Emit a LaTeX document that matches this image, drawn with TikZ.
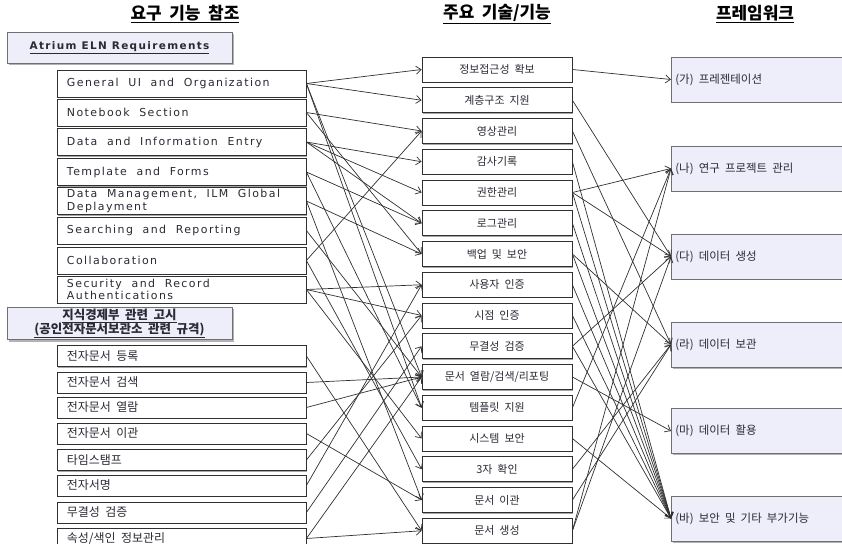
\documentclass[tikz,border=0pt]{standalone}
\usepackage{fontspec}
\setmainfont{Noto Sans CJK KR}
\newfontfamily\latinf[LetterSpace=13]{DejaVu Sans}
\newfontfamily\latinb[LetterSpace=13]{DejaVu Sans Bold}
\usetikzlibrary{arrows.meta,shadows}
\newcommand\gp{\hspace{0.45em}}
\newcommand\wsp{\ \hspace{6bp}}
\definecolor{lav}{HTML}{EEEEFA}
\definecolor{bordg}{HTML}{707070}
\definecolor{txt}{HTML}{2A2A35}
\definecolor{lnc}{HTML}{303030}
\tikzset{
  lbox/.style={draw=lnc, line width=0.8bp, fill=white, text=txt, minimum height=27bp,
    text width=229bp, inner xsep=10bp, inner ysep=0bp, align=left,
    font=\latinf\fontsize{11}{12.5}\selectfont,
    drop shadow={shadow xshift=1.2bp, shadow yshift=-1.2bp, fill=black!35, opacity=1}},
  kbox/.style={lbox, minimum height=21bp, font=\fontsize{12}{13}\selectfont},
  mbox/.style={draw=lnc, line width=0.8bp, fill=white, text=txt, minimum width=150bp,
    minimum height=25bp, inner sep=0bp, font=\fontsize{11}{12}\selectfont,
    drop shadow={shadow xshift=1.2bp, shadow yshift=-1.2bp, fill=black!35, opacity=1}},
  rbox/.style={draw=bordg, line width=0.7bp, fill=lav, text=txt, minimum height=45bp,
    text width=180bp, inner xsep=4bp, inner ysep=0bp, align=left, anchor=west,
    font=\fontsize{11.5}{12}\selectfont,
    drop shadow={shadow xshift=1.5bp, shadow yshift=-1.5bp, fill=black!30, opacity=1}},
  hbox/.style={draw=bordg, line width=0.7bp, fill=lav, text=txt, minimum width=225bp,
    inner sep=0bp, align=center,
    drop shadow={shadow xshift=2bp, shadow yshift=-2bp, fill=black!30, opacity=1}},
  title/.style={font=\bfseries\fontsize{17}{18}\selectfont, text=black},
  conn/.style={draw=lnc, line width=0.7bp, -{Straight Barb[length=5bp,width=8bp]}}
}
\begin{document}
\begin{tikzpicture}[x=1bp,y=-1bp]
\useasboundingbox (0,0) rectangle (842,544);
% titles
\node[title] (T1) at (185,14) {\underline{요구\gp 기능\gp 참조}};
\node[title] (T2) at (497,14) {\underline{주요\gp 기술/기능}};
\node[title] (T3) at (755,14) {\underline{프레임워크}};
% headers
\node[hbox, minimum height=31bp, font=\latinb\fontsize{10.5}{11}\selectfont] (H1) at (119.5,47.5) {\underline{Atrium ELN Requirements}};
\node[hbox, minimum height=32bp, font=\bfseries\fontsize{12.5}{14}\selectfont] (H2) at (119.5,323.5) {\underline{지식경제부\gp 관련\gp 고시}\\\underline{(공인전자문서보관소\gp 관련\gp 규격)}};
% left boxes
\node[lbox] (L1) at (181.5,83.5) {General\wsp UI\wsp and\wsp Organization};
\node[lbox] (L2) at (181.5,112.5) {Notebook\wsp Section};
\node[lbox] (L3) at (181.5,142) {Data\wsp and\wsp Information\wsp Entry};
\node[lbox] (L4) at (181.5,172) {Template\wsp and\wsp Forms};
\node[lbox] (L5) at (181.5,201) {Data\wsp Management,\wsp ILM\wsp Global\\Deplayment};
\node[lbox] (L6) at (181.5,230.5) {Searching\wsp and\wsp Reporting};
\node[lbox] (L7) at (181.5,260.5) {Collaboration};
\node[lbox] (L8) at (181.5,289.5) {Security\wsp and\wsp Record\\Authentications};
\node[kbox] (K1) at (181.5,356) {전자문서\gp 등록};
\node[kbox] (K2) at (181.5,382.5) {전자문서\gp 검색};
\node[kbox] (K3) at (181.5,407.5) {전자문서\gp 열람};
\node[kbox] (K4) at (181.5,433.5) {전자문서\gp 이관};
\node[kbox] (K5) at (181.5,460) {타임스탬프};
\node[kbox] (K6) at (181.5,485.5) {전자서명};
\node[kbox] (K7) at (181.5,512.5) {무결성\gp 검증};
\node[kbox] (K8) at (181.5,538.5) {속성/색인\gp 정보관리};
% middle boxes
\node[mbox] (M1) at (497,69.5) {정보접근성\gp 확보};
\node[mbox] (M2) at (497,100.25) {계층구조\gp 지원};
\node[mbox] (M3) at (497,131) {영상관리};
\node[mbox] (M4) at (497,161.75) {감사기록};
\node[mbox] (M5) at (497,192.5) {권한관리};
\node[mbox] (M6) at (497,223.25) {로그관리};
\node[mbox] (M7) at (497,254) {백업\gp 및\gp 보안};
\node[mbox] (M8) at (497,284.75) {사용자\gp 인증};
\node[mbox] (M9) at (497,315.5) {시점\gp 인증};
\node[mbox] (M10) at (497,346.25) {무결성\gp 검증};
\node[mbox] (M11) at (497,377) {문서\gp 열람/검색/리포팅};
\node[mbox] (M12) at (497,407.75) {템플릿\gp 지원};
\node[mbox] (M13) at (497,438.5) {시스템\gp 보안};
\node[mbox] (M14) at (497,469.25) {3자\gp 확인};
\node[mbox] (M15) at (497,500) {문서\gp 이관};
\node[mbox] (M16) at (497,530.75) {문서\gp 생성};
% right boxes
\node[rbox] (R1) at (671,79.5) {(가)\gp 프레젠테이션};
\node[rbox] (R2) at (671,168.5) {(나)\gp 연구\gp 프로젝트\gp 관리};
\node[rbox] (R3) at (671,256.5) {(다)\gp 데이터\gp 생성};
\node[rbox] (R4) at (671,344.5) {(라)\gp 데이터\gp 보관};
\node[rbox] (R5) at (671,431) {(마)\gp 데이터\gp 활용};
\node[rbox] (R6) at (671,518.5) {(바)\gp 보안\gp 및\gp 기타\gp 부가기능};
% connectors left -> middle
\foreach \a/\b in {L1/M1,L1/M2,L1/M11,L1/M12,L2/M3,L2/M7,L3/M4,L3/M5,L3/M6,L4/M6,L4/M12,
  L5/M7,L5/M15,L6/M11,L7/M3,L7/M14,L8/M8,L8/M13,L8/M9,
  K1/M16,K2/M11,K3/M11,K4/M15,K5/M9,K6/M8,K7/M10,K8/M11,K8/M16}
  \draw[conn] (\a.east) -- (\b.west);
% connectors middle -> right
\foreach \a/\b in {M1/R1,M2/R3,M3/R4,M4/R6,M5/R2,M5/R3,M5/R6,M6/R6,M7/R4,M7/R6,M8/R6,
  M9/R6,M10/R3,M10/R6,M11/R5,M12/R2,M13/R6,M14/R4,M15/R4,M16/R2,M16/R3}
  \draw[conn] (\a.east) -- (\b.west);
\end{tikzpicture}
\end{document}
